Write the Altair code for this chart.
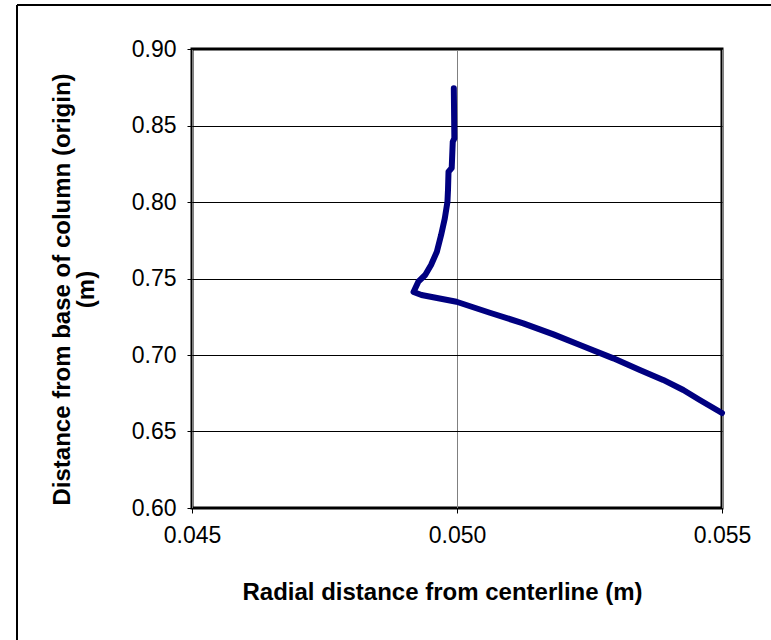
import altair as alt
import pandas as pd

# Measured profile: radial position (m) vs. height above the column base (m)
radial_m = [0.04994, 0.04995, 0.04992, 0.04990, 0.04984, 0.04983, 0.04982,
            0.04977, 0.04970, 0.04962, 0.04951, 0.04940, 0.04927, 0.04918,
            0.04933, 0.04999, 0.05062, 0.05125, 0.05182, 0.05232, 0.05295,
            0.05345, 0.05389, 0.05427, 0.05458, 0.05500]
height_m = [0.8743, 0.8416, 0.8394, 0.8222, 0.8198, 0.8078, 0.8002,
            0.7893, 0.7784, 0.7675, 0.7588, 0.7523, 0.7479, 0.7412,
            0.7392, 0.7348, 0.7276, 0.7207, 0.7135, 0.7065, 0.6978,
            0.6902, 0.6837, 0.6771, 0.6706, 0.6621]

x_ticks = [0.045, 0.050, 0.055]
y_ticks = [0.60, 0.65, 0.70, 0.75, 0.80, 0.85, 0.90]

df = pd.DataFrame({"r": radial_m, "z": height_m, "i": range(len(radial_m))})

FONT = "Liberation Sans"
W, H = 530, 459
PAD = {"left": 192, "top": 49, "right": 49, "bottom": 132}

profile = alt.Chart(df).mark_line(
    color="#000080", strokeWidth=6, strokeJoin="round", strokeCap="round"
).encode(
    x=alt.X("r:Q",
            scale=alt.Scale(domain=[0.045, 0.055], nice=False, zero=False),
            axis=alt.Axis(values=x_ticks, format=".3f", labelFlush=False,
                          title="Radial distance from centerline (m)",
                          titleX=250, titleY=84, titleBaseline="middle",
                          titleAnchor="start", titleAlign="center",
                          gridColor="#808080", labelPadding=11)),
    y=alt.Y("z:Q",
            scale=alt.Scale(domain=[0.60, 0.90], nice=False, zero=False),
            axis=alt.Axis(values=y_ticks, format=".2f", labelFlush=False,
                          title=["Distance from base of column (origin)", "(m)"],
                          titleX=-130, titleY=240, titleAngle=-90,
                          titleBaseline="middle", titleAlign="center",
                          titleLineHeight=24, gridColor="#000000",
                          labelPadding=11)),
    order="i:Q",
)

# Outer frame lines around the figure (top and left edges)
frame_top = alt.Chart(df).mark_rule(color="black", strokeWidth=1.2).encode(
    x=alt.value(-175), x2=alt.value(600), y=alt.value(-44)
)
frame_left = alt.Chart(df).mark_rule(color="black", strokeWidth=1.2).encode(
    x=alt.value(-175), y=alt.value(-44), y2=alt.value(620)
)

chart = alt.layer(frame_top, frame_left, profile).properties(
    width=W, height=H,
    autosize=alt.AutoSizeParams(type="none"),
    padding=PAD,
    background="white",
).configure_view(
    stroke="black", strokeWidth=3
).configure_axis(
    labelFont=FONT, labelFontSize=23, labelColor="black",
    titleFont=FONT, titleFontSize=24, titleFontWeight="bold", titleColor="black",
    domain=False, tickColor="black", tickSize=5, tickWidth=1,
    grid=True, gridWidth=1, gridOpacity=1,
)

chart.save("out.html", embed_options={"renderer": "svg", "actions": False})
